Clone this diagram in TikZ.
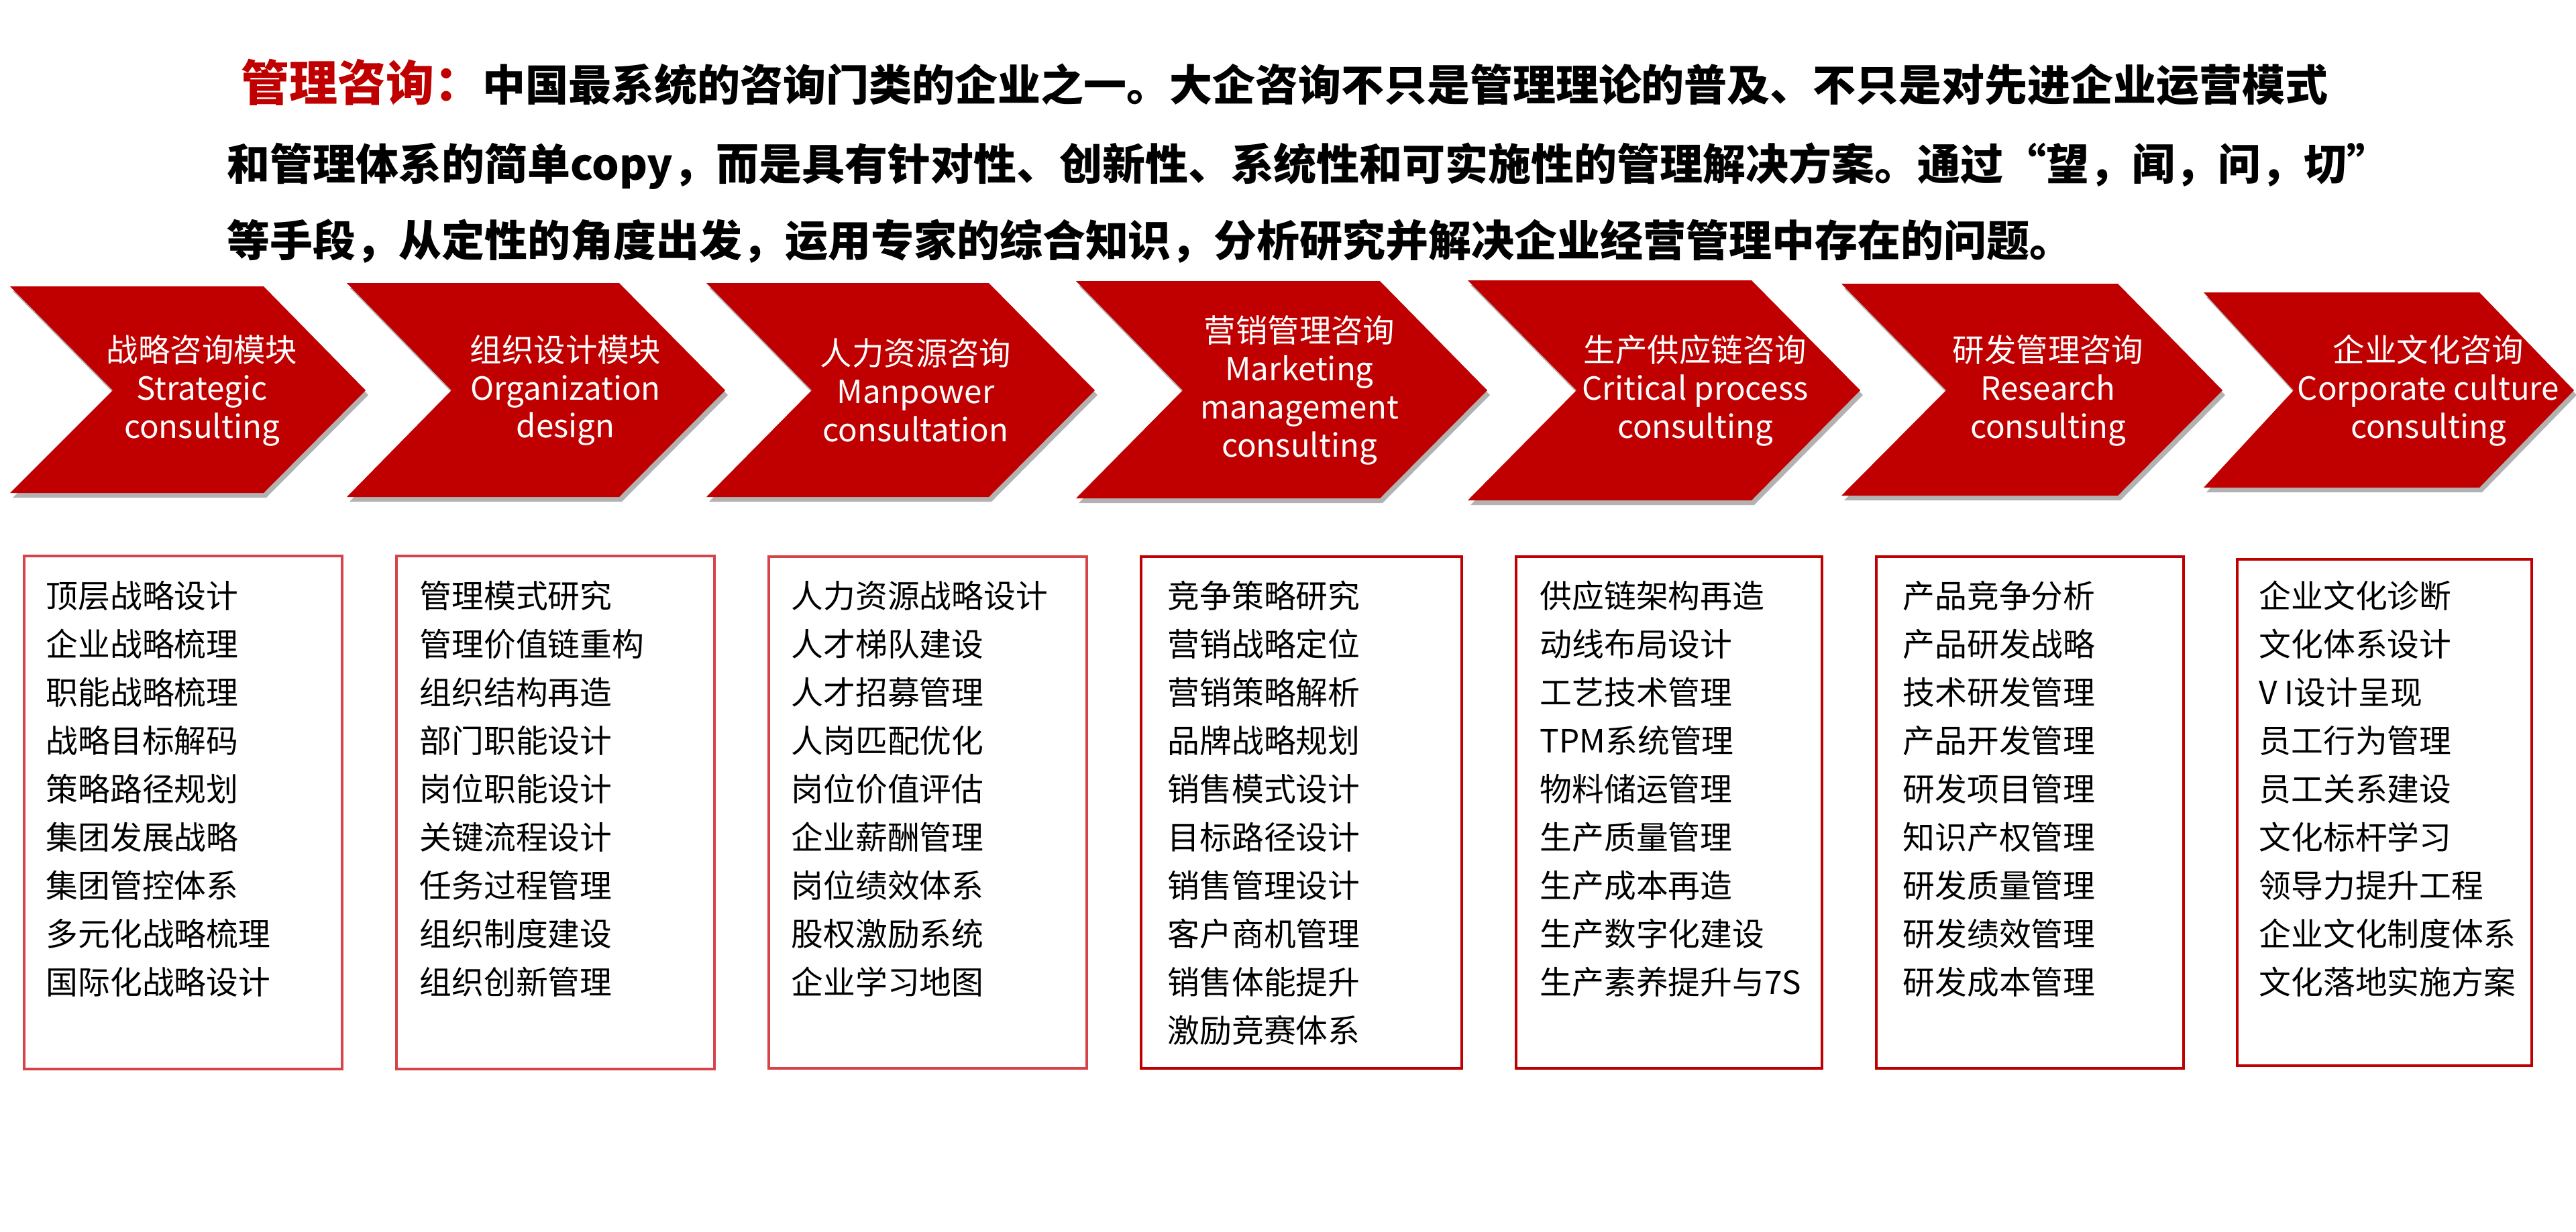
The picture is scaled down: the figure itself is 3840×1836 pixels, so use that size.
\documentclass[tikz,border=0pt]{standalone}
\usepackage{fontspec}
\setmainfont{Noto Sans CJK SC}
\usepackage{tikz}
\usetikzlibrary{shadows}

\definecolor{chevred}{HTML}{C00000}
\definecolor{boxred}{HTML}{D6444A}
\tikzset{
  chev/.style={fill=chevred, drop shadow={shadow xshift=0.4mm, shadow yshift=-0.7mm, opacity=0.3, fill=black}},
  chevtext/.style={text=white, align=center, inner sep=0pt, font=\fontsize{13.5pt}{16.2pt}\selectfont},
  listbox/.style={line width=0.4mm},
  listitem/.style={anchor=base west, inner sep=0pt, font=\fontsize{13.6pt}{16pt}\selectfont},
  headline/.style={anchor=base west, inner sep=0pt, font=\bfseries\fontsize{18.2pt}{20pt}\selectfont}
}

\begin{document}
\begin{tikzpicture}[x=0.1mm, y=-0.1mm]
  \useasboundingbox (0,0) rectangle (3840,1836);

  % header text
  \node[headline] (h1) at (359,150) {\textcolor{chevred}{\fontsize{20.5pt}{22pt}\selectfont 管理咨询：}中国最系统的咨询门类的企业之一。大企咨询不只是管理理论的普及、不只是对先进企业运营模式};
  \node[headline] (h2) at (338,268) {和管理体系的简单copy，而是具有针对性、创新性、系统性和可实施性的管理解决方案。通过“望，闻，问，切”};
  \node[headline] (h3) at (338,382) {等手段，从定性的角度出发，运用专家的综合知识，分析研究并解决企业经营管理中存在的问题。};

  % chevrons
  \foreach \l/\r/\t/\b/\n/\p in {15/393/427/735/168/545, 517/923/422/741/673/1081,
      1053/1474/422/741/1210/1632, 1604/2057/419/743/1763/2217,
      2188/2611/418/746/2350/2773, 2745/3157/423/739/2901/3313,
      3285/3696/436/727/3419/3837}
    \fill[chev] (\l,\t) -- (\r,\t) -- (\p,582) -- (\r,\b) -- (\l,\b) -- (\n,582) -- cycle;

  \node[chevtext] (c1) at (301,582) {战略咨询模块\\Strategic\\consulting};
  \node[chevtext] (c2) at (843,582) {组织设计模块\\Organization\\design};
  \node[chevtext] (c3) at (1365,582) {人力资源咨询\\Manpower\\consultation};
  \node[chevtext] (c4) at (1937,582) {营销管理咨询\\Marketing\\management\\consulting};
  \node[chevtext] (c5) at (2527,582) {生产供应链咨询\\Critical process\\consulting};
  \node[chevtext] (c6) at (3053,582) {研发管理咨询\\Research\\consulting};
  \node[chevtext] (c7) at (3620,582) {企业文化咨询\\Corporate culture\\consulting};

  % boxes
  \foreach \l/\r/\t/\b/\c in {36/510/829/1594/boxred, 591/1065/829/1594/boxred,
      1146/1620/830/1593/boxred, 1701/2179/830/1593/chevred, 2260/2716/830/1593/chevred,
      2797/3255/830/1593/chevred, 3335/3774/834/1589/chevred}
    \draw[listbox, draw=\c] (\l,\t) rectangle (\r,\b);

  % items
  \foreach \x/\items [count=\k] in {
      68/{顶层战略设计,企业战略梳理,职能战略梳理,战略目标解码,策略路径规划,集团发展战略,集团管控体系,多元化战略梳理,国际化战略设计},
      625/{管理模式研究,管理价值链重构,组织结构再造,部门职能设计,岗位职能设计,关键流程设计,任务过程管理,组织制度建设,组织创新管理},
      1179/{人力资源战略设计,人才梯队建设,人才招募管理,人岗匹配优化,岗位价值评估,企业薪酬管理,岗位绩效体系,股权激励系统,企业学习地图},
      1740/{竞争策略研究,营销战略定位,营销策略解析,品牌战略规划,销售模式设计,目标路径设计,销售管理设计,客户商机管理,销售体能提升,激励竞赛体系},
      2295/{供应链架构再造,动线布局设计,工艺技术管理,TPM系统管理,物料储运管理,生产质量管理,生产成本再造,生产数字化建设,生产素养提升与7S},
      2836/{产品竞争分析,产品研发战略,技术研发管理,产品开发管理,研发项目管理,知识产权管理,研发质量管理,研发绩效管理,研发成本管理},
      3367/{企业文化诊断,文化体系设计,V I设计呈现,员工行为管理,员工关系建设,文化标杆学习,领导力提升工程,企业文化制度体系,文化落地实施方案}}
    \foreach \txt [count=\i] in \items
      \node[listitem] (item-\k-\i) at (\x,{906+72*(\i-1)}) {\txt};
\end{tikzpicture}
\end{document}
